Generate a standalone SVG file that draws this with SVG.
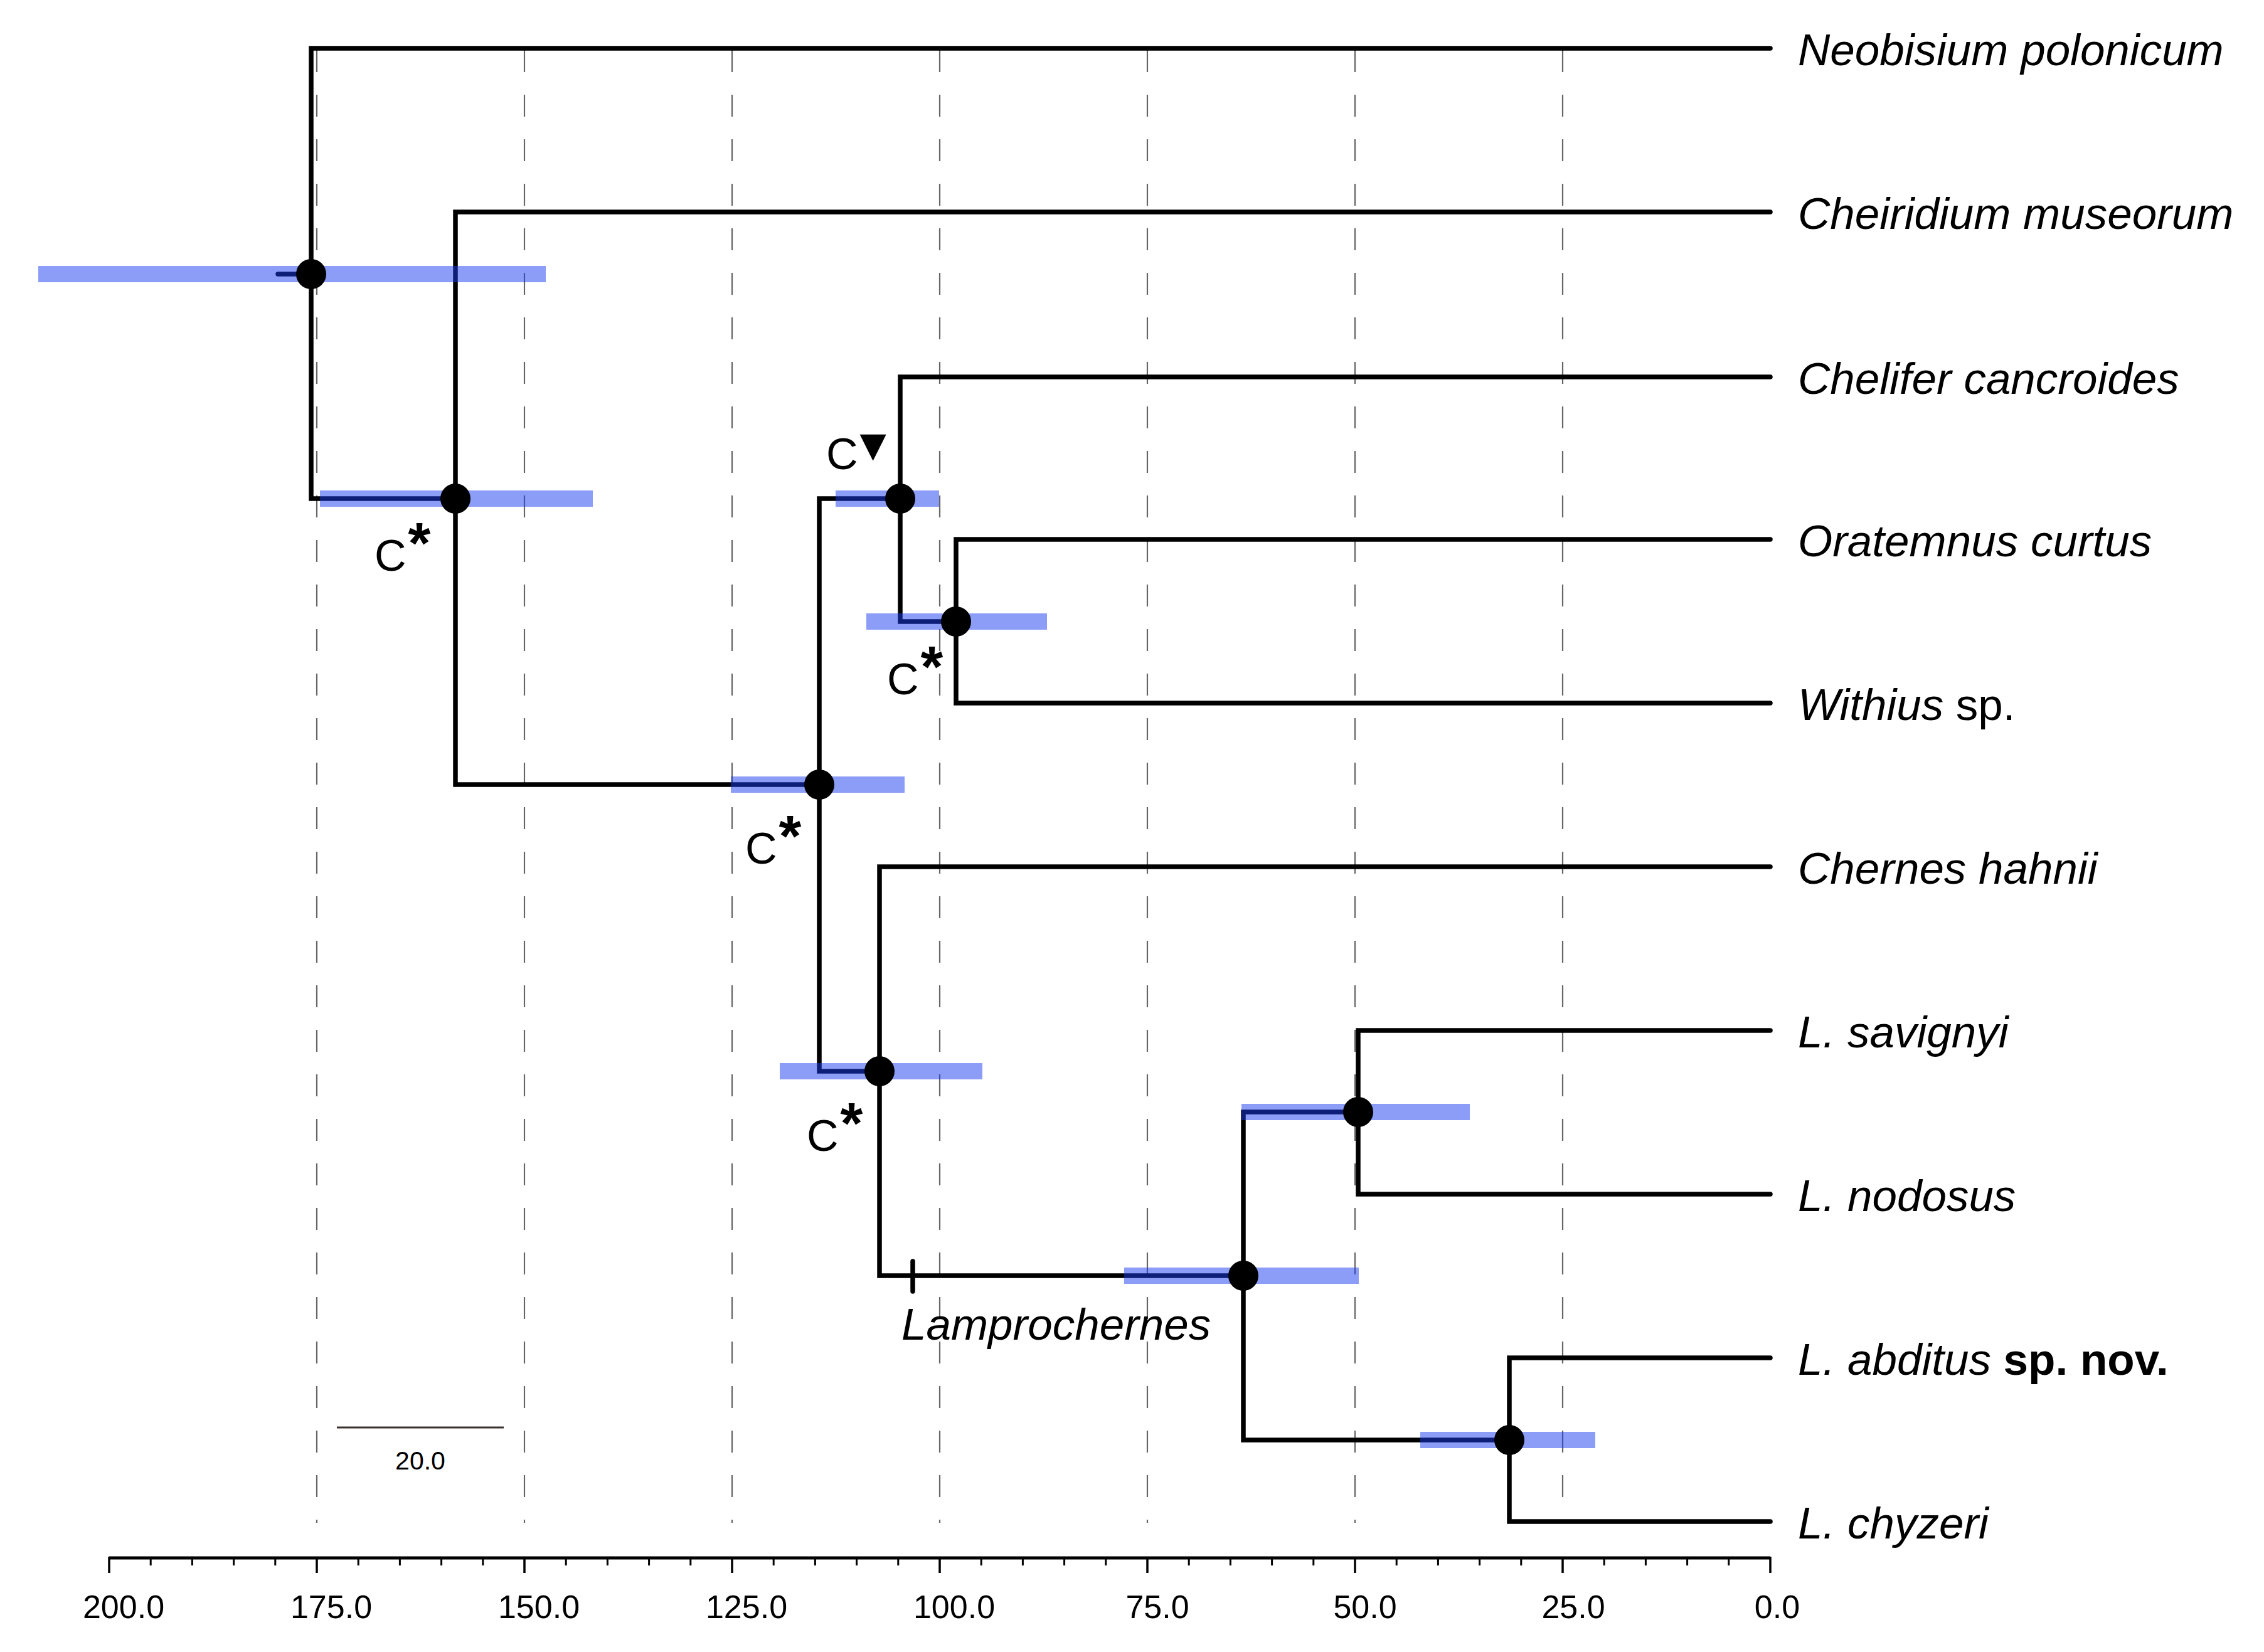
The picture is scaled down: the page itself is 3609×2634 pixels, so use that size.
<svg xmlns="http://www.w3.org/2000/svg" width="3609" height="2634" viewBox="0 0 3609 2634">
<style>
.grid{stroke:#666;stroke-width:2.2;stroke-dasharray:35 36;fill:none}
.br{stroke:#000;stroke-width:7.5;fill:none;stroke-linejoin:miter;stroke-linecap:round}
.bar{fill:#1a3cf0;fill-opacity:0.5}
.dot{fill:#000}
.tip{font-family:"Liberation Sans",Arial,sans-serif;font-size:71px;font-style:italic;fill:#000}
.up{font-style:normal}
.bold{font-style:normal;font-weight:bold}
.cl{font-family:"Liberation Sans",Arial,sans-serif;font-size:70px;fill:#000}
.ast{font-size:92px;font-weight:bold}
.ax{font-family:"Liberation Sans",Arial,sans-serif;font-size:52px;fill:#000;text-anchor:middle}
.axl{stroke:#000;fill:none}
</style>
<rect width="3609" height="2634" fill="#fff"/>
<g id="grid">
<path class="grid" d="M505,80V2428M836,80V2428M1167,80V2428M1498,80V2428M1829,80V2428M2160,80V2428M2491,80V2428"/>
</g>
<g id="connectors">
<path class="br" d="M443,437H496"/>
<path class="br" d="M2822,77H496V795H726"/>
<path class="br" d="M2822,338H726V1251H1306"/>
<path class="br" d="M1435,795H1306V1708H1402"/>
<path class="br" d="M2822,601H1435V991H1524"/>
<path class="br" d="M2822,860H1524V1121H2822"/>
<path class="br" d="M2822,1382H1402V2034H1982"/>
<path class="br" d="M2165,1773H1982V2296H2406"/>
<path class="br" d="M2822,1643H2165V1904H2822"/>
<path class="br" d="M2822,2165H2406V2426H2822"/>
<path class="br" d="M1455,2011V2059" stroke-width="6"/>
</g>
<g id="node-root"><rect class="bar" x="61" y="424" width="809" height="26"/><circle class="dot" cx="496" cy="437" r="24"/></g>
<g id="node-2"><rect class="bar" x="510" y="782" width="435" height="26"/><circle class="dot" cx="726" cy="795" r="24"/><text class="cl" x="597" y="910">C<tspan class="ast" dx="3" dy="-12">*</tspan></text></g>
<g id="node-3"><rect class="bar" x="1165" y="1238" width="277" height="26"/><circle class="dot" cx="1306" cy="1251" r="24"/><text class="cl" x="1188" y="1377">C<tspan class="ast" dx="3" dy="-12">*</tspan></text></g>
<g id="node-4"><rect class="bar" x="1332" y="782" width="165" height="26"/><circle class="dot" cx="1435" cy="795" r="24"/><text class="cl" x="1317" y="748">C<tspan font-family="'DejaVu Sans',sans-serif" font-size="55" dx="3" dy="-20">▼</tspan></text></g>
<g id="node-5"><rect class="bar" x="1381" y="978" width="288" height="26"/><circle class="dot" cx="1524" cy="991" r="24"/><text class="cl" x="1414" y="1107">C<tspan class="ast" dx="3" dy="-12">*</tspan></text></g>
<g id="node-6"><rect class="bar" x="1243" y="1695" width="323" height="26"/><circle class="dot" cx="1402" cy="1708" r="24"/><text class="cl" x="1286" y="1835">C<tspan class="ast" dx="3" dy="-12">*</tspan></text></g>
<g id="node-7"><rect class="bar" x="1792" y="2021" width="374" height="26"/><circle class="dot" cx="1982" cy="2034" r="24"/><text class="tip" x="1437" y="2136">Lamprochernes</text></g>
<g id="node-8"><rect class="bar" x="1979" y="1760" width="364" height="26"/><circle class="dot" cx="2165" cy="1773" r="24"/></g>
<g id="node-9"><rect class="bar" x="2264" y="2283" width="279" height="26"/><circle class="dot" cx="2406" cy="2296" r="24"/></g>
<g id="tip-1"><text class="tip" x="2866" y="104">Neobisium polonicum</text></g>
<g id="tip-2"><text class="tip" x="2866" y="365">Cheiridium museorum</text></g>
<g id="tip-3"><text class="tip" x="2866" y="628">Chelifer cancroides</text></g>
<g id="tip-4"><text class="tip" x="2866" y="887">Oratemnus curtus</text></g>
<g id="tip-5"><text class="tip" x="2866" y="1148">Withius<tspan class="up"> sp.</tspan></text></g>
<g id="tip-6"><text class="tip" x="2866" y="1409">Chernes hahnii</text></g>
<g id="tip-7"><text class="tip" x="2866" y="1670">L. savignyi</text></g>
<g id="tip-8"><text class="tip" x="2866" y="1931">L. nodosus</text></g>
<g id="tip-9"><text class="tip" x="2866" y="2192">L. abditus<tspan class="bold"> sp. nov.</tspan></text></g>
<g id="tip-10"><text class="tip" x="2866" y="2453">L. chyzeri</text></g>
<g id="scale">
<path d="M537,2276H803" stroke="#3a3030" stroke-width="3"/>
<text x="670" y="2343" font-family="'Liberation Sans',Arial,sans-serif" font-size="41" text-anchor="middle">20.0</text>
</g>
<g id="axis">
<path class="axl" stroke-width="5" d="M174,2484H2822"/>
<path class="axl" stroke-width="3.5" d="M174,2482V2508M505,2482V2508M836,2482V2508M1167,2482V2508M1498,2482V2508M1829,2482V2508M2160,2482V2508M2491,2482V2508M2822,2482V2508"/>
<path class="axl" stroke-width="3" d="M2755.8,2484v12M2689.6,2484v12M2623.4,2484v12M2557.2,2484v12M2424.8,2484v12M2358.6,2484v12M2292.4,2484v12M2226.2,2484v12M2093.8,2484v12M2027.6,2484v12M1961.4,2484v12M1895.2,2484v12M1762.8,2484v12M1696.6,2484v12M1630.4,2484v12M1564.2,2484v12M1431.8,2484v12M1365.6,2484v12M1299.4,2484v12M1233.2,2484v12M1100.8,2484v12M1034.6,2484v12M968.4,2484v12M902.2,2484v12M769.8,2484v12M703.6,2484v12M637.4,2484v12M571.2,2484v12M438.8,2484v12M372.6,2484v12M306.4,2484v12M240.2,2484v12"/>
<text class="ax" x="197" y="2580">200.0</text>
<text class="ax" x="528" y="2580">175.0</text>
<text class="ax" x="859" y="2580">150.0</text>
<text class="ax" x="1190" y="2580">125.0</text>
<text class="ax" x="1521" y="2580">100.0</text>
<text class="ax" x="1845" y="2580">75.0</text>
<text class="ax" x="2176" y="2580">50.0</text>
<text class="ax" x="2508" y="2580">25.0</text>
<text class="ax" x="2833" y="2580">0.0</text>
</g>
</svg>
